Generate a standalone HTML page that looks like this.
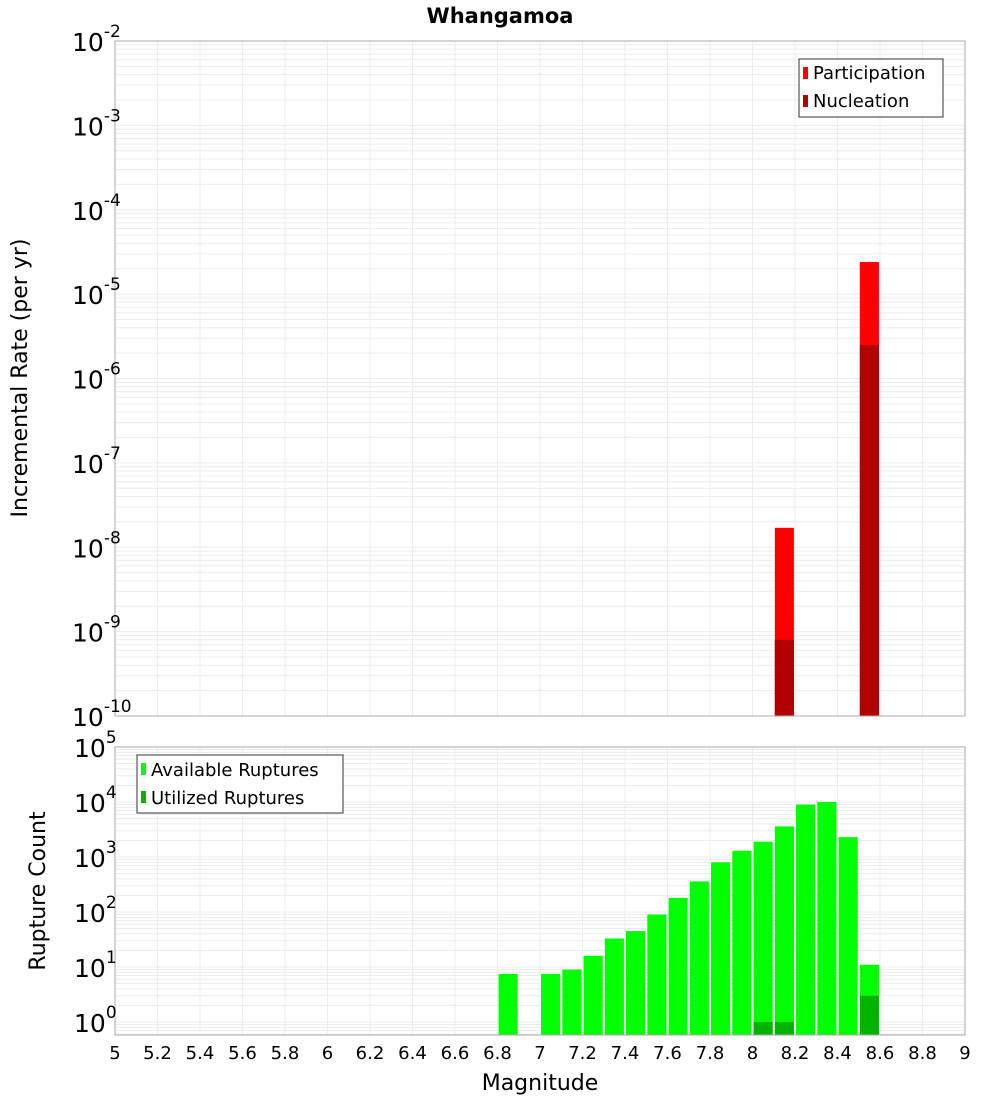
<!DOCTYPE html>
<html><head><meta charset="utf-8"><style>
body{margin:0;background:#fff;font-family:"DejaVu Sans","Liberation Sans",sans-serif;}
</style></head><body>
<svg id="c" width="1000" height="1100" xmlns="http://www.w3.org/2000/svg" font-family="DejaVu Sans, Liberation Sans, sans-serif"></svg>
<script>
const partMags=[8.15,8.55];
const partVals=[1.7e-8,2.4e-5];
const nuclMags=[8.15,8.55];
const nuclVals=[8e-10,2.5e-6];
const availMags=[6.85,7.05,7.15,7.25,7.35,7.45,7.55,7.65,7.75,7.85,7.95,8.05,8.15,8.25,8.35,8.45,8.55];
const availVals=[7.5,7.5,9,16,33,45,90,180,360,800,1300,1900,3600,9000,10000,2300,11];
const utilMags=[8.05,8.15,8.55];
const utilVals=[1,1,3];
const xTicks=[5,5.2,5.4,5.6,5.8,6,6.2,6.4,6.6,6.8,7,7.2,7.4,7.6,7.8,8,8.2,8.4,8.6,8.8,9];
const topExps=[-2,-3,-4,-5,-6,-7,-8,-9,-10];
const botExps=[5,4,3,2,1,0];

const svg=document.getElementById('c');
const NS='http://www.w3.org/2000/svg';
function el(t,a,p){const e=document.createElementNS(NS,t);for(const k in a)e.setAttribute(k,a[k]);(p||svg).appendChild(e);return e;}
const X0=115,X1=965;
const xs=m=>X0+(m-5)/4*(X1-X0);
const T0=41,T1=716;
const yTop=v=>T0+(-2-Math.log10(v))*(T1-T0)/8;
const B0=747,B1=1035,BD=55;
const yBot=v=>B0+(5-Math.log10(v))*BD;

// title
let t=el('text',{x:500,y:23,'text-anchor':'middle','font-size':21,'font-weight':'bold'});t.textContent='Whangamoa';


function grid(y0,y1,yf,exps,lo,hi){
  const g=el('g',{});
  for(let e=lo;e<hi;e++){for(let k=1;k<10;k++){const y=yf(k*Math.pow(10,e));if(y>=y0&&y<=y1)el('line',{x1:X0,x2:X1,y1:y,y2:y,stroke:'#ececec','stroke-width':1},g);}}
  xTicks.forEach(m=>{el('line',{x1:xs(m),x2:xs(m),y1:y0,y2:y1,stroke:'#ececec'},g);});
  return g;
}
// top panel
let gt=grid(T0,T1,yTop,topExps,-10,-2);

partMags.forEach((m,i)=>{const y=yTop(partVals[i]);const r=el('rect',{x:xs(m-0.045),y:y,width:xs(m+0.045)-xs(m-0.045),height:T1-y,fill:'#ff0000'});
});
nuclMags.forEach((m,i)=>{const y=yTop(nuclVals[i]);const r=el('rect',{x:xs(m-0.045),y:y,width:xs(m+0.045)-xs(m-0.045),height:T1-y,fill:'#b30000'});
});
el('rect',{x:X0,y:T0,width:X1-X0,height:T1-T0,fill:'none',stroke:'#aaa'});
topExps.forEach(e=>{const y=yTop(Math.pow(10,e));const tx=el('text',{x:72,y:y+10,'font-size':25});

tx.innerHTML='10<tspan dy="-14" font-size="17">'+e+'</tspan>';});
t=el('text',{transform:'translate(27,378) rotate(-90)','text-anchor':'middle','font-size':22});t.textContent='Incremental Rate (per yr)';

// top legend
let lg=el('g',{});
el('rect',{x:799,y:59,width:144,height:58,fill:'#fff',stroke:'#333'},lg);
el('rect',{x:803,y:67,width:5,height:12,fill:'#ff0000'},lg);
el('rect',{x:803,y:95,width:5,height:12,fill:'#b30000'},lg);
t=el('text',{x:813,y:79,'font-size':18},lg);t.textContent='Participation';
t=el('text',{x:813,y:107,'font-size':18},lg);t.textContent='Nucleation';

// bottom panel
let gb=grid(B0,B1,yBot,botExps,-1,5);

availMags.forEach((m,i)=>{const y=yBot(availVals[i]);const r=el('rect',{x:xs(m-0.045),y:y,width:xs(m+0.045)-xs(m-0.045),height:B1-y,fill:'#00ff00'});
});
utilMags.forEach((m,i)=>{const y=yBot(utilVals[i]);const r=el('rect',{x:xs(m-0.045),y:y,width:xs(m+0.045)-xs(m-0.045),height:B1-y,fill:'#00b300'});
});
el('rect',{x:X0,y:B0,width:X1-X0,height:B1-B0,fill:'none',stroke:'#aaa'});
botExps.forEach(e=>{const y=yBot(Math.pow(10,e));const tx=el('text',{x:74,y:y+10,'font-size':25});

tx.innerHTML='10<tspan dy="-14" font-size="17">'+e+'</tspan>';});
t=el('text',{transform:'translate(45,891) rotate(-90)','text-anchor':'middle','font-size':22});t.textContent='Rupture Count';

lg=el('g',{});
el('rect',{x:137,y:755,width:206,height:58,fill:'#fff',stroke:'#333'},lg);
el('rect',{x:141,y:763,width:5,height:12,fill:'#00ff00'},lg);
el('rect',{x:141,y:791,width:5,height:12,fill:'#00b300'},lg);
t=el('text',{x:151,y:776,'font-size':18},lg);t.textContent='Available Ruptures';
t=el('text',{x:151,y:804,'font-size':18},lg);t.textContent='Utilized Ruptures';
xTicks.forEach(m=>{const tx=el('text',{x:xs(m),y:1059,'text-anchor':'middle','font-size':18});tx.textContent=String(m);
});
t=el('text',{x:540,y:1090,'text-anchor':'middle','font-size':22});t.textContent='Magnitude';

</script>
</body></html>
